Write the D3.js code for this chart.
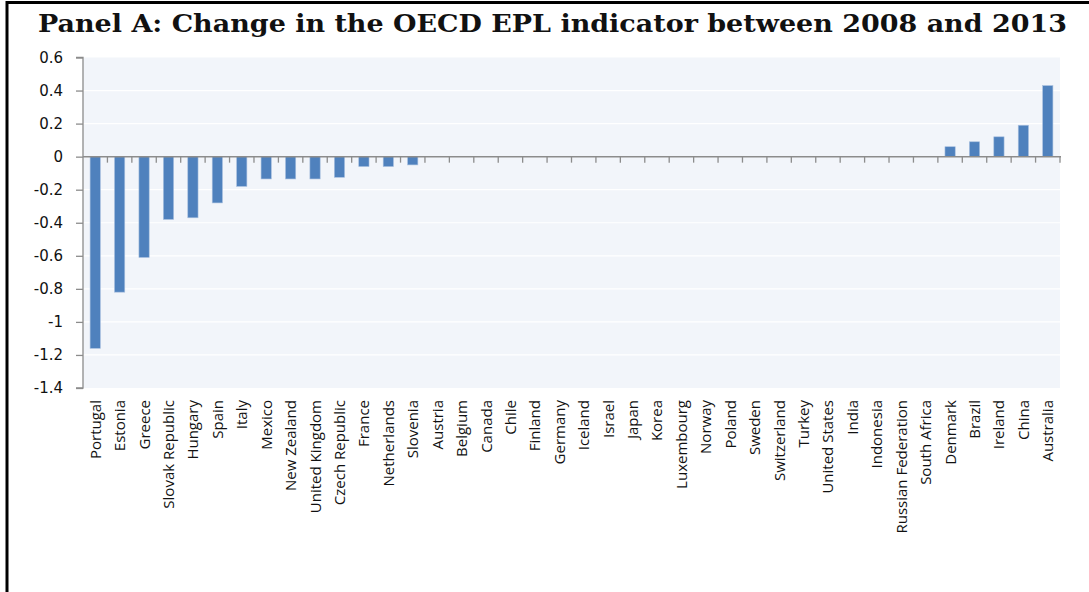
<!DOCTYPE html>
<html>
<head>
<meta charset="utf-8">
<script src="https://cdn.jsdelivr.net/npm/d3@7"></script>
<style>
  body { margin: 0; background: #fff; }
  svg { display: block; }
</style>
</head>
<body>
<svg id="chart" width="1089" height="592"></svg>
<script>
const countries = [
  "Portugal", "Estonia", "Greece", "Slovak Republic", "Hungary", "Spain", "Italy",
  "Mexico", "New Zealand", "United Kingdom", "Czech Republic", "France", "Netherlands",
  "Slovenia", "Austria", "Belgium", "Canada", "Chile", "Finland", "Germany", "Iceland",
  "Israel", "Japan", "Korea", "Luxembourg", "Norway", "Poland", "Sweden", "Switzerland",
  "Turkey", "United States", "India", "Indonesia", "Russian Federation", "South Africa",
  "Denmark", "Brazil", "Ireland", "China", "Australia"
];
const eplChange = [
  -1.16, -0.82, -0.61, -0.38, -0.37, -0.28, -0.18,
  -0.135, -0.135, -0.135, -0.125, -0.06, -0.06,
  -0.05, 0, 0, 0, 0, 0, 0, 0,
  0, 0, 0, 0, 0, 0, 0, 0,
  0, 0, 0, 0, 0, 0,
  0.06, 0.09, 0.12, 0.19, 0.43
];
const yTicks = [0.6, 0.4, 0.2, 0, -0.2, -0.4, -0.6, -0.8, -1, -1.2, -1.4];
const title = "Panel A: Change in the OECD EPL indicator between 2008 and 2013";

const svg = d3.select("#chart");
const plotLeft = 83, plotRight = 1060, plotTop = 57.5, plotBottom = 388;

// outer frame (top + left only visible)
svg.append("line").attr("x1", 7).attr("x2", 1089).attr("y1", 2.5).attr("y2", 2.5)
  .attr("stroke", "#000").attr("stroke-width", 3);
svg.append("line").attr("x1", 7).attr("x2", 7).attr("y1", 1).attr("y2", 592)
  .attr("stroke", "#000").attr("stroke-width", 3);

svg.append("text")
  .attr("x", 38).attr("y", 32)
  .attr("font-family", "'DejaVu Serif', serif")
  .attr("font-weight", "bold")
  .attr("font-size", 25)
  .attr("textLength", 1029)
  .attr("lengthAdjust", "spacingAndGlyphs")
  .attr("fill", "#111")
  .text(title);

const x = d3.scaleBand().domain(countries).range([plotLeft, plotRight]).paddingInner(0.58).paddingOuter(0.29);
const xStep = d3.scaleBand().domain(countries).range([plotLeft, plotRight]);
const y = d3.scaleLinear().domain([-1.4, 0.6]).range([plotBottom, plotTop]);

// plot background
svg.append("rect")
  .attr("x", plotLeft).attr("y", plotTop)
  .attr("width", plotRight - plotLeft).attr("height", plotBottom - plotTop)
  .attr("fill", "#F2F5FA");

// gridlines
svg.append("g")
  .selectAll("line")
  .data(yTicks.filter(d => d !== 0.6 && d !== -1.4))
  .join("line")
  .attr("x1", plotLeft).attr("x2", plotRight)
  .attr("y1", d => y(d)).attr("y2", d => y(d))
  .attr("stroke", "#fff").attr("stroke-width", 1.2);

// bars
svg.append("g")
  .selectAll("rect")
  .data(countries.map((c, i) => ({ c, v: eplChange[i] })).filter(d => d.v !== 0))
  .join("rect")
  .attr("x", d => x(d.c))
  .attr("y", d => y(Math.max(0, d.v)))
  .attr("width", x.bandwidth())
  .attr("height", d => Math.abs(y(d.v) - y(0)))
  .attr("fill", "#4F81BD")
  .attr("stroke", "#A9C0DF")
  .attr("stroke-width", 0.6);

// y axis
const yAxis = svg.append("g")
  .attr("transform", `translate(${plotLeft},0)`)
  .call(d3.axisLeft(y).tickValues(yTicks).tickSize(7).tickPadding(13)
    .tickFormat(d => String(+d.toFixed(1))));
yAxis.select(".domain").attr("stroke", "#8C8C8C").attr("stroke-width", 1.3)
  .attr("d", `M-7,${plotTop}H0V${plotBottom}H-7`);
yAxis.selectAll(".tick line").attr("stroke", "#8C8C8C").attr("stroke-width", 1.3);
yAxis.selectAll(".tick text")
  .attr("font-family", "'DejaVu Sans', sans-serif")
  .attr("font-size", 15).attr("fill", "#111");

// x axis on zero line with boundary ticks
const zeroY = y(0);
svg.append("line").attr("x1", plotLeft).attr("x2", plotRight + 1).attr("y1", zeroY).attr("y2", zeroY)
  .attr("stroke", "#8C8C8C").attr("stroke-width", 1.5);
svg.append("g")
  .selectAll("line")
  .data(countries)
  .join("line")
  .attr("x1", d => xStep(d) + xStep.step()).attr("x2", d => xStep(d) + xStep.step())
  .attr("y1", zeroY).attr("y2", zeroY + 6)
  .attr("stroke", "#8C8C8C").attr("stroke-width", 1.3);

// category labels (rotated)
svg.append("g")
  .selectAll("text")
  .data(countries)
  .join("text")
  .attr("transform", d => `translate(${xStep(d) + xStep.step() / 2 + 5.5},${plotBottom + 12}) rotate(-90)`)
  .attr("text-anchor", "end")
  .attr("font-family", "'Open Sans', sans-serif")
  .attr("font-size", 15)
  .attr("fill", "#111")
  .text(d => d);
</script>
</body>
</html>
